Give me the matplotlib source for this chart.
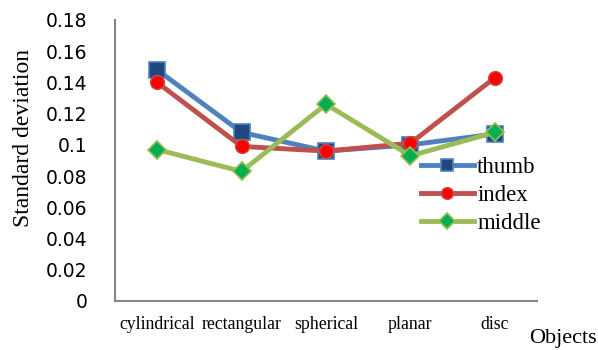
import matplotlib
matplotlib.use("Agg")
import matplotlib.pyplot as plt

objects = ["cylindrical", "rectangular", "spherical", "planar", "disc"]
thumb = [0.148, 0.108, 0.096, 0.100, 0.107]
index = [0.140, 0.099, 0.096, 0.101, 0.143]
middle = [0.097, 0.083, 0.126, 0.093, 0.108]

SERIF = ["Liberation Serif", "DejaVu Serif"]

fig = plt.figure(figsize=(5.98, 3.50), dpi=100)
ax = fig.add_axes([0.1923, 0.14, 0.898 - 0.1923, 0.943 - 0.14])

x = range(len(objects))
ax.plot(x, thumb, "-s", color="#4F81BD", lw=3.5, ms=11,
        mfc="#1F497D", mec="#4F81BD", mew=1.2, label="thumb")
ax.plot(x, index, "-o", color="#C0504D", lw=3.5, ms=10,
        mfc="#FF0000", mec="#C0504D", mew=1.0, label="index")
ax.plot(x, middle, "-D", color="#9BBB59", lw=3.5, ms=9,
        mfc="#00B050", mec="#9BBB59", mew=1.2, label="middle")

ax.set_xlim(-0.5, len(objects) - 0.5)
ax.set_ylim(0, 0.18)
ax.set_yticks([i * 0.02 for i in range(10)])
ax.set_yticklabels(["0", "0.02", "0.04", "0.06", "0.08", "0.1",
                    "0.12", "0.14", "0.16", "0.18"], fontsize=13.5)
ax.set_xticks(list(x))
ax.set_xticklabels(objects, fontsize=12.8, family=SERIF)
ax.tick_params(axis="y", length=0, pad=20)
ax.tick_params(axis="x", length=0, pad=11)

for s in ("top", "right"):
    ax.spines[s].set_visible(False)
for s in ("left", "bottom"):
    ax.spines[s].set_color("#868686")
    ax.spines[s].set_linewidth(1.5)

fig.text(24 / 598, 1 - 138 / 350, "Standard deviation", rotation=90,
         ha="center", va="center", fontsize=17, family=SERIF)
fig.text(563 / 598, 1 - 338 / 350, "Objects", ha="center", va="center",
         fontsize=16, family=SERIF)

ax.legend(loc="upper left", bbox_to_anchor=(0.725, 0.512), frameon=False,
          prop={"family": SERIF, "size": 16.5}, handlelength=2.3,
          handletextpad=0.15, labelspacing=0.31, markerscale=0.85,
          borderaxespad=0, borderpad=0)

fig.savefig("out.png", dpi=100)
